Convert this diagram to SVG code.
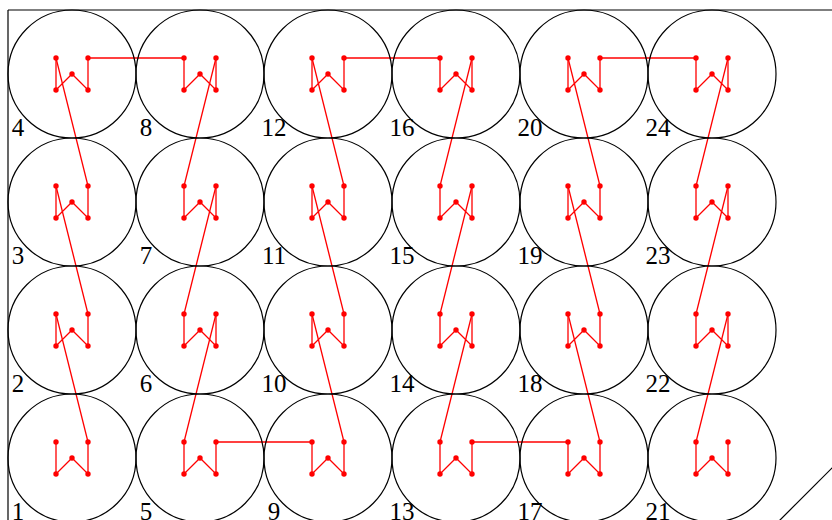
<svg xmlns="http://www.w3.org/2000/svg" xmlns:xlink="http://www.w3.org/1999/xlink" width="832" height="520" viewBox="0 0 832 520">
<style>
.c{fill:none;stroke:#000;stroke-width:1.2}
.b{fill:none;stroke:#000;stroke-width:1.2}
.r{fill:none;stroke:#f00;stroke-width:1.3}
.d{fill:#f00}
.t{font-family:"Liberation Serif","DejaVu Serif",serif;font-size:25px;text-anchor:middle;fill:#000}
</style>
<defs>
<g id="w">
<polyline class="r" points="-16,-16 -16,16 0,0 16,16 16,-16"/>
<circle class="d" cx="-16" cy="-16" r="2.7"/>
<circle class="d" cx="-16" cy="16" r="2.7"/>
<circle class="d" cx="0" cy="0" r="2.7"/>
<circle class="d" cx="16" cy="16" r="2.7"/>
<circle class="d" cx="16" cy="-16" r="2.7"/>
</g>
</defs>
<rect width="832" height="520" fill="#fff"/>
<g id="frame">
<line class="b" x1="8" y1="10" x2="832" y2="10"/>
<line class="b" x1="8" y1="10" x2="8" y2="520"/>
<line class="b" x1="779" y1="521" x2="833" y2="467"/>
</g>
<g id="connectors">
<polyline class="r" points="88,442 56,314"/>
<polyline class="r" points="88,314 56,186"/>
<polyline class="r" points="88,186 56,58"/>
<polyline class="r" points="88,58 184,58"/>
<polyline class="r" points="216,58 184,186"/>
<polyline class="r" points="216,186 184,314"/>
<polyline class="r" points="216,314 184,442"/>
<polyline class="r" points="216,442 312,442"/>
<polyline class="r" points="344,442 312,314"/>
<polyline class="r" points="344,314 312,186"/>
<polyline class="r" points="344,186 312,58"/>
<polyline class="r" points="344,58 440,58"/>
<polyline class="r" points="472,58 440,186"/>
<polyline class="r" points="472,186 440,314"/>
<polyline class="r" points="472,314 440,442"/>
<polyline class="r" points="472,442 568,442"/>
<polyline class="r" points="600,442 568,314"/>
<polyline class="r" points="600,314 568,186"/>
<polyline class="r" points="600,186 568,58"/>
<polyline class="r" points="600,58 696,58"/>
<polyline class="r" points="728,58 696,186"/>
<polyline class="r" points="728,186 696,314"/>
<polyline class="r" points="728,314 696,442"/>
</g>
<g id="n1"><circle class="c" cx="72" cy="458" r="64"/><use href="#w" xlink:href="#w" x="72" y="458"/><text class="t" x="18" y="520">1</text></g>
<g id="n2"><circle class="c" cx="72" cy="330" r="64"/><use href="#w" xlink:href="#w" x="72" y="330"/><text class="t" x="18" y="392">2</text></g>
<g id="n3"><circle class="c" cx="72" cy="202" r="64"/><use href="#w" xlink:href="#w" x="72" y="202"/><text class="t" x="18" y="264">3</text></g>
<g id="n4"><circle class="c" cx="72" cy="74" r="64"/><use href="#w" xlink:href="#w" x="72" y="74"/><text class="t" x="18" y="136">4</text></g>
<g id="n5"><circle class="c" cx="200" cy="458" r="64"/><use href="#w" xlink:href="#w" x="200" y="458"/><text class="t" x="146" y="520">5</text></g>
<g id="n6"><circle class="c" cx="200" cy="330" r="64"/><use href="#w" xlink:href="#w" x="200" y="330"/><text class="t" x="146" y="392">6</text></g>
<g id="n7"><circle class="c" cx="200" cy="202" r="64"/><use href="#w" xlink:href="#w" x="200" y="202"/><text class="t" x="146" y="264">7</text></g>
<g id="n8"><circle class="c" cx="200" cy="74" r="64"/><use href="#w" xlink:href="#w" x="200" y="74"/><text class="t" x="146" y="136">8</text></g>
<g id="n9"><circle class="c" cx="328" cy="458" r="64"/><use href="#w" xlink:href="#w" x="328" y="458"/><text class="t" x="274" y="520">9</text></g>
<g id="n10"><circle class="c" cx="328" cy="330" r="64"/><use href="#w" xlink:href="#w" x="328" y="330"/><text class="t" x="274" y="392">10</text></g>
<g id="n11"><circle class="c" cx="328" cy="202" r="64"/><use href="#w" xlink:href="#w" x="328" y="202"/><text class="t" x="274" y="264">11</text></g>
<g id="n12"><circle class="c" cx="328" cy="74" r="64"/><use href="#w" xlink:href="#w" x="328" y="74"/><text class="t" x="274" y="136">12</text></g>
<g id="n13"><circle class="c" cx="456" cy="458" r="64"/><use href="#w" xlink:href="#w" x="456" y="458"/><text class="t" x="402" y="520">13</text></g>
<g id="n14"><circle class="c" cx="456" cy="330" r="64"/><use href="#w" xlink:href="#w" x="456" y="330"/><text class="t" x="402" y="392">14</text></g>
<g id="n15"><circle class="c" cx="456" cy="202" r="64"/><use href="#w" xlink:href="#w" x="456" y="202"/><text class="t" x="402" y="264">15</text></g>
<g id="n16"><circle class="c" cx="456" cy="74" r="64"/><use href="#w" xlink:href="#w" x="456" y="74"/><text class="t" x="402" y="136">16</text></g>
<g id="n17"><circle class="c" cx="584" cy="458" r="64"/><use href="#w" xlink:href="#w" x="584" y="458"/><text class="t" x="530" y="520">17</text></g>
<g id="n18"><circle class="c" cx="584" cy="330" r="64"/><use href="#w" xlink:href="#w" x="584" y="330"/><text class="t" x="530" y="392">18</text></g>
<g id="n19"><circle class="c" cx="584" cy="202" r="64"/><use href="#w" xlink:href="#w" x="584" y="202"/><text class="t" x="530" y="264">19</text></g>
<g id="n20"><circle class="c" cx="584" cy="74" r="64"/><use href="#w" xlink:href="#w" x="584" y="74"/><text class="t" x="530" y="136">20</text></g>
<g id="n21"><circle class="c" cx="712" cy="458" r="64"/><use href="#w" xlink:href="#w" x="712" y="458"/><text class="t" x="658" y="520">21</text></g>
<g id="n22"><circle class="c" cx="712" cy="330" r="64"/><use href="#w" xlink:href="#w" x="712" y="330"/><text class="t" x="658" y="392">22</text></g>
<g id="n23"><circle class="c" cx="712" cy="202" r="64"/><use href="#w" xlink:href="#w" x="712" y="202"/><text class="t" x="658" y="264">23</text></g>
<g id="n24"><circle class="c" cx="712" cy="74" r="64"/><use href="#w" xlink:href="#w" x="712" y="74"/><text class="t" x="658" y="136">24</text></g>
</svg>
